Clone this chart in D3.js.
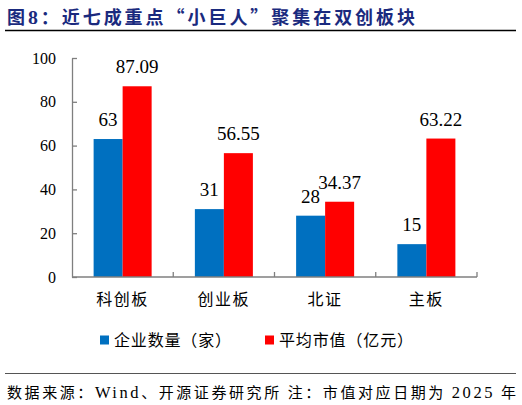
<!DOCTYPE html>
<html><head><meta charset="utf-8">
<script src="https://cdn.jsdelivr.net/npm/d3@7"></script>
<style>body{margin:0;background:#fff}svg{display:block}</style>
</head><body>
<script>
const categories = ["科创板", "创业板", "北证", "主板"];
const seriesNames = ["企业数量（家）", "平均市值（亿元）"];
const companyCount = [63, 31, 28, 15];
const avgMarketCap = [87.09, 56.55, 34.37, 63.22];
const valueLabels = [["63","87.09"],["31","56.55"],["28","34.37"],["15","63.22"]];
const yTicks = [0, 20, 40, 60, 80, 100];
const colors = ["#0070C0", "#FF0000"];
// [text, isLatin]
const titleParts = [["图", false], ["8", true], ["：近七成重点“小巨人”聚集在双创板块", false]];
const footerParts = [["数据来源：", false], ["Wind", true], ["、开源证券研究所 注：市值对应日期为 ", false], ["2025", true], [" 年", false]];

const W = 522, H = 405;
const serif = "'Liberation Serif','Times New Roman',serif";
const cjk = "'Noto Sans CJK SC','Liberation Serif',serif";

const svg = d3.select("body").append("svg").attr("width", W).attr("height", H);

function mixedText(parts, x, y, size, weight, fill, len) {
  const t = svg.append("text").attr("x", x).attr("y", y)
    .attr("font-size", size).attr("font-weight", weight).attr("fill", fill)
    .attr("font-family", cjk).attr("textLength", len).attr("lengthAdjust", "spacing");
  parts.forEach(p => {
    t.append("tspan").attr("font-family", p[1] ? serif : cjk)
      .attr("font-size", p[1] ? size * 1.1 : size).text(p[0]);
  });
  return t;
}

// title
mixedText(titleParts, 7, 24, 18, "bold", "#1a2a7e", 408);
svg.append("line").attr("x1", 5).attr("x2", 516).attr("y1", 30.5).attr("y2", 30.5)
  .attr("stroke", "#000").attr("stroke-width", 1.3);

const data = categories.map((c, i) => ({cat: c, vals: [companyCount[i], avgMarketCap[i]], labels: valueLabels[i]}));

const y = d3.scaleLinear().domain([0, 100]).range([277, 58]);
const x0 = d3.scaleBand().domain(categories).range([72, 477]).paddingInner(0.427).paddingOuter(0.2135);
const x1 = d3.scaleBand().domain([0, 1]).range([0, x0.bandwidth()]);

const axisColor = "#7f7f7f";

// bars
const g = svg.append("g");
data.forEach(d => {
  d.vals.forEach((v, j) => {
    g.append("rect")
      .attr("x", x0(d.cat) + x1(j)).attr("width", x1.bandwidth())
      .attr("y", y(v)).attr("height", y(0) - y(v))
      .attr("fill", colors[j]);
    g.append("text")
      .attr("x", x0(d.cat) + x1(j) + x1.bandwidth() / 2)
      .attr("y", y(v) - 13)
      .attr("text-anchor", "middle")
      .attr("font-family", serif).attr("font-size", 19).attr("fill", "#000")
      .text(d.labels[j]);
  });
});

// y axis
const yAxis = svg.append("g").attr("transform", "translate(72,0)")
  .call(d3.axisLeft(y).tickValues(yTicks).tickSizeInner(-5).tickSizeOuter(0).tickPadding(16));
yAxis.select(".domain").attr("stroke", axisColor).attr("stroke-width", 1.3);
yAxis.selectAll(".tick line").attr("stroke", axisColor).attr("stroke-width", 1.3);
yAxis.selectAll(".tick text").attr("font-family", serif).attr("font-size", 16).attr("fill", "#000");

// x axis
const step = x0.step();
const bounds = categories.map(c => x0(c) - step * x0.paddingInner() / 2).concat([x0.range()[1]]);
svg.append("line").attr("x1", 72).attr("x2", x0.range()[1]).attr("y1", y(0)).attr("y2", y(0))
  .attr("stroke", axisColor).attr("stroke-width", 1.3);
bounds.slice(1).forEach(b => {
  svg.append("line").attr("x1", b).attr("x2", b).attr("y1", y(0)).attr("y2", y(0) - 5)
    .attr("stroke", axisColor).attr("stroke-width", 1.3);
});
categories.forEach(c => {
  svg.append("text").attr("x", x0(c) + x0.bandwidth() / 2).attr("y", 305)
    .attr("text-anchor", "middle").attr("font-family", cjk).attr("font-size", 16)
    .attr("letter-spacing", 1.5).attr("fill", "#000").text(c);
});

// legend
const legendX = [100, 265];
const legendW = [117, 134];
seriesNames.forEach((s, i) => {
  svg.append("rect").attr("x", legendX[i]).attr("y", 335.5).attr("width", 9).attr("height", 9).attr("fill", colors[i]);
  svg.append("text").attr("x", legendX[i] + 14).attr("y", 346)
    .attr("font-family", cjk).attr("font-size", 16).attr("fill", "#000")
    .attr("textLength", legendW[i]).attr("lengthAdjust", "spacing").text(s);
});

// footer
svg.append("line").attr("x1", 5).attr("x2", 516).attr("y1", 373.5).attr("y2", 373.5)
  .attr("stroke", "#555").attr("stroke-width", 1);
mixedText(footerParts, 7, 398, 15, "normal", "#000", 509);
</script>
</body></html>
